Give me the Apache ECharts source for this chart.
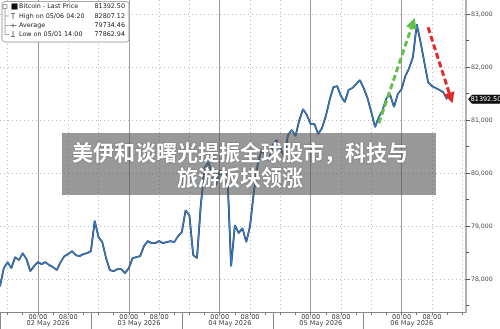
<!DOCTYPE html>
<html>
<head>
<meta charset="utf-8">
<script src="https://cdn.jsdelivr.net/npm/echarts@6/dist/echarts.min.js"></script>
<style>
  html, body { margin: 0; padding: 0; background: #fff; }
  #main { width: 500px; height: 329px; }
</style>
</head>
<body>
<div id="main"></div>
<script>
// Bitcoin - Last Price, hourly from 01 May 2026 14:00 (UTC) to 06 May 2026 12:00
var startTime = Date.UTC(2026, 4, 1, 14);
var axisHours = 124; // axis runs on to 06 May 17:00

var prices = [
  77863, 78207, 78321, 78207, 78415, 78358, 78490, 78377, 78151, 78245,
  78321, 78283, 78321, 78264, 78226, 78170, 78321, 78434, 78472, 78528,
  78453, 78434, 78472, 78490, 78528, 79100, 78792, 78698, 78396, 78170,
  78150, 78188, 78190, 78113, 78207, 78396, 78415, 78434, 78622, 78717,
  78679, 78679, 78717, 78679, 78698, 78717, 78698, 78811, 78887, 79300,
  79200, 78453, 78396, 79396, 80094, 80207, 79981, 79773, 80056, 79868,
  80019, 78245, 79019, 78868, 78962, 78698, 79000, 79641, 80151, 80434,
  80340, 80245, 80528, 80622, 80472, 80302, 80717, 80811, 80698, 81000,
  81207, 81094, 80924, 80924, 80736, 80849, 81075, 81377, 81622, 81641,
  81453, 81339, 81566, 81604, 81679, 81755, 81604, 81415, 81151, 80868,
  81056, 81189, 81415, 81472, 81245, 81491, 81585, 81830, 81981, 82189,
  82807, 82472, 82094, 81717, 81641, 81604, 81566, 81528, 81392.5
];

var yMin = 77380, yMax = 83265;
var yTicks = [78000, 79000, 80000, 81000, 82000, 83000];
var yMinorTicks = [77500, 78500, 79500, 80500, 81500, 82500];

var legendRows = [
  ['Bitcoin - Last Price', '81392.50'],
  ['High on 05/06 04:20', '82807.12'],
  ['Average', '79734.46'],
  ['Low on 05/01 14:00', '77862.94']
];
var lastPriceText = '81392.50';

// trend arrows drawn on the chart: [hour index, price]
var upArrow = [[100, 80940], [109, 82830]];
var downArrow = [[113, 82750], [119, 81415]];

var titleLines = ['美伊和谈曙光提振全球股市，科技与', '旅游板块领涨'];

var monthNames = ['Jan', 'Feb', 'Mar', 'Apr', 'May', 'Jun', 'Jul', 'Aug', 'Sep', 'Oct', 'Nov', 'Dec'];

var categories = [];
for (var i = 0; i < axisHours; i++) {
  categories.push(new Date(startTime + i * 3600000).toISOString().slice(0, 16));
}
function hourOf(v) { return +v.slice(11, 13); }
function pad(n) { return (n < 10 ? '0' : '') + n; }

var font = 'DejaVu Sans';
var dotted = [1, 3];

var myChart = echarts.init(document.getElementById('main'), null, { renderer: 'canvas' });

var baseX = {
  type: 'category',
  data: categories,
  boundaryGap: false,
  position: 'bottom',
  axisLine: { show: false },
  axisTick: { show: false },
  axisLabel: { show: false },
  splitLine: { show: false }
};

var option = {
  animation: false,
  grid: { left: 0, right: 34, top: 0, bottom: 17 },
  xAxis: [
    // hour labels, small ticks, solid midnight lines
    echarts.util.merge({
      axisLine: { show: true, lineStyle: { color: '#888', width: 1 } },
      axisTick: {
        show: true, length: 3, lineStyle: { color: '#777' },
        interval: function (idx, v) { return hourOf(v) % 4 === 0; }
      },
      axisLabel: {
        show: true, fontSize: 6.6, color: '#444', fontFamily: font, margin: 2,
        interval: function (idx, v) { var h = hourOf(v); return h === 0 || h === 8; },
        formatter: function (v) { return pad(hourOf(v)) + ':00'; }
      },
      splitLine: {
        show: true, lineStyle: { color: '#999', width: 1 },
        interval: function (idx, v) { return hourOf(v) === 0; }
      }
    }, baseX, false),
    // dotted lines at 08:00 and 16:00
    echarts.util.merge({
      splitLine: {
        show: true, lineStyle: { color: '#bbb', type: dotted },
        interval: function (idx, v) { var h = hourOf(v); return h === 8 || h === 16; }
      }
    }, baseX, false),
    // day labels and the separators below the axis
    echarts.util.merge({
      axisTick: {
        show: true, length: 17, lineStyle: { color: '#888' },
        interval: function (idx) { return idx % 24 === 0 && idx < 120; }
      },
      axisLabel: {
        show: true, fontSize: 6.6, color: '#444', fontFamily: font, margin: 8, align: 'left',
        interval: function (idx, v) { return hourOf(v) === 21; },
        formatter: function (v) {
          var d = new Date(Date.parse(v + ':00Z') + 3 * 3600000);
          return pad(d.getUTCDate()) + ' ' + monthNames[d.getUTCMonth()] + ' ' + d.getUTCFullYear();
        }
      }
    }, baseX, false)
  ],
  yAxis: [
    {
      type: 'value', position: 'right', min: yMin, max: yMax,
      axisLine: { show: true, lineStyle: { color: '#999', width: 1.5 } },
      axisTick: { show: true, customValues: yTicks, length: 4, lineStyle: { color: '#555' } },
      axisLabel: { customValues: yTicks, fontSize: 6.2, color: '#444', fontFamily: font, margin: 5 },
      splitLine: { show: true, lineStyle: { color: '#bbb', type: dotted } }
    },
    {
      type: 'value', position: 'right', min: yMin, max: yMax,
      axisLine: { show: false },
      axisTick: { show: true, customValues: yMinorTicks, length: 3, lineStyle: { color: '#555' } },
      axisLabel: { show: false },
      splitLine: { show: false }
    }
  ],
  series: [
    {
      type: 'line', data: prices, showSymbol: false, z: 2,
      lineStyle: { color: '#2a2a2a', width: 1.8 }
    },
    {
      type: 'line', data: prices, showSymbol: false, z: 3,
      lineStyle: { color: '#2f80d8', width: 1.2 },
      markLine: {
        silent: true, symbol: ['none', 'triangle'], symbolSize: 11,
        label: { show: false },
        data: [
          [{ coord: upArrow[0], lineStyle: { color: '#62c04a', width: 3, type: [6, 3] } }, { coord: upArrow[1] }],
          [{ coord: downArrow[0], lineStyle: { color: '#e3262a', width: 3, type: [6, 3] } }, { coord: downArrow[1] }]
        ]
      }
    }
  ]
};

myChart.setOption(option);

// legend box, title banner and last price tag
var rowY = [6.7, 16, 25.5, 34.5];
var graphics = [
  { type: 'rect', shape: { x: 2, y: 1.5, width: 127, height: 40.5, r: 3 }, style: { fill: '#fff', stroke: '#aaa', lineWidth: 1 }, z: 50 },
  { type: 'polyline', shape: { points: [[5, 8], [5, 34.5], [9, 34.5]] }, style: { stroke: '#999', lineWidth: 0.8, fill: null }, z: 51 },
  { type: 'line', shape: { x1: 5, y1: 16, x2: 9, y2: 16 }, style: { stroke: '#999', lineWidth: 0.8 }, z: 51 },
  { type: 'line', shape: { x1: 5, y1: 25.5, x2: 9, y2: 25.5 }, style: { stroke: '#999', lineWidth: 0.8 }, z: 51 },
  { type: 'rect', shape: { x: 3, y: 4.5, width: 4, height: 4 }, style: { fill: '#fff', stroke: '#888', lineWidth: 0.8 }, z: 52 },
  { type: 'rect', shape: { x: 11.5, y: 3.5, width: 6, height: 6 }, style: { fill: '#111' }, z: 52 },
  { type: 'line', shape: { x1: 11, y1: 13.5, x2: 15, y2: 13.5 }, style: { stroke: '#555', lineWidth: 0.8 }, z: 52 },
  { type: 'line', shape: { x1: 13, y1: 13.5, x2: 13, y2: 19 }, style: { stroke: '#555', lineWidth: 0.8 }, z: 52 },
  { type: 'line', shape: { x1: 10, y1: 25.5, x2: 16.5, y2: 25.5 }, style: { stroke: '#555', lineWidth: 0.8 }, z: 52 },
  { type: 'line', shape: { x1: 13, y1: 23.5, x2: 13, y2: 27.5 }, style: { stroke: '#555', lineWidth: 0.8 }, z: 52 },
  { type: 'line', shape: { x1: 13, y1: 31, x2: 13, y2: 36.5 }, style: { stroke: '#555', lineWidth: 0.8 }, z: 52 },
  { type: 'line', shape: { x1: 11, y1: 36.5, x2: 15, y2: 36.5 }, style: { stroke: '#555', lineWidth: 0.8 }, z: 52 }
];
legendRows.forEach(function (row, k) {
  graphics.push({ type: 'text', x: 19, y: rowY[k], z: 52,
    style: { text: row[0], fontSize: 6.4, fontFamily: font, fill: '#222', verticalAlign: 'middle' } });
  graphics.push({ type: 'text', x: 125, y: rowY[k], z: 52,
    style: { text: row[1], fontSize: 6.4, fontFamily: font, fill: '#222', align: 'right', verticalAlign: 'middle' } });
});

graphics.push({ type: 'rect', shape: { x: 62, y: 133, width: 374, height: 62 }, style: { fill: 'rgba(85,85,85,0.6)' }, z: 100 });
titleLines.forEach(function (line, k) {
  graphics.push({ type: 'text', x: 240, y: 152.5 + k * 25, z: 101,
    style: {
      text: line, fontSize: 21, fontWeight: 'bold', fontFamily: 'Noto Sans CJK SC',
      fill: '#fff', align: 'center', verticalAlign: 'middle',
      textShadowColor: 'rgba(0,0,0,0.35)', textShadowBlur: 2
    } });
});

var tagY = myChart.convertToPixel({ yAxisIndex: 0 }, prices[prices.length - 1]);
graphics.push({ type: 'polygon', z: 60,
  shape: { points: [[468, tagY], [472, tagY - 4.5], [500, tagY - 4.5], [500, tagY + 4.5], [472, tagY + 4.5]] },
  style: { fill: '#111' } });
graphics.push({ type: 'text', x: 486, y: tagY, z: 61,
  style: { text: lastPriceText, fontSize: 6.4, fontFamily: font, fill: '#fff', align: 'center', verticalAlign: 'middle' } });

myChart.setOption({ graphic: graphics });
</script>
</body>
</html>
